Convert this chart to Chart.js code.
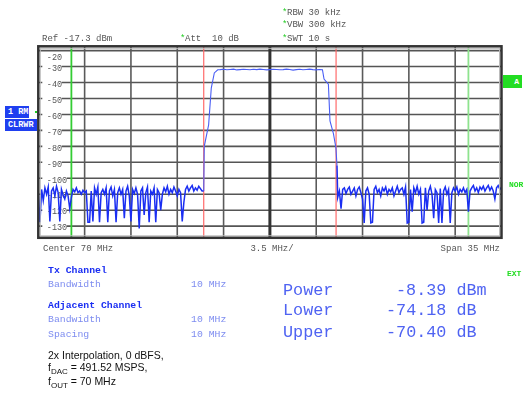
<!DOCTYPE html>
<html>
<head>
<meta charset="utf-8">
<script src="https://cdn.jsdelivr.net/npm/chart.js@4.4.0/dist/chart.umd.min.js"></script>
<style>
  body { margin: 0; background: #fff; }
  #wrap { position: relative; width: 525px; height: 393px; overflow: hidden; }
  canvas { position: absolute; left: 0; top: 0; }
  .t { position: absolute; white-space: pre; transform: translateY(-50%); line-height: 1.15; font-family: 'Liberation Mono', 'DejaVu Sans Mono', monospace; }
  .hdr { font-size: 9px; color: #555; }
  .star { color: #22cc22; }
  .blue-b { font-size: 9.8px; font-weight: bold; color: #1a2ef2; }
  .blue-l { font-size: 9.8px; color: #7d8cf0; }
  .big { font-size: 16.8px; color: #4f63f2; }
  .note { font-family: 'Liberation Sans', Arial, sans-serif; font-size: 10.5px; color: #111; }
  .note sub { font-size: 8px; vertical-align: -3px; line-height: 0; }
  .box { position: absolute; overflow: hidden; white-space: pre; font-family: 'Liberation Mono', monospace; font-size: 8.5px; font-weight: bold; color: #fff; line-height: 12px; padding-left: 3px; box-sizing: border-box; }
  .grn { color: #22dd22; font-size: 8px; font-weight: bold; }
</style>
</head>
<body>
<div id="wrap">
  <canvas id="c" width="525" height="393"></canvas>

  <div class="t hdr" style="left:287px;top:12.7px"><span class="star" style="position:absolute;left:-5px">*</span>RBW 30 kHz</div>
  <div class="t hdr" style="left:287px;top:25px"><span class="star" style="position:absolute;left:-5px">*</span>VBW 300 kHz</div>
  <div class="t hdr" style="left:287px;top:38.5px"><span class="star" style="position:absolute;left:-5px">*</span>SWT 10 s</div>
  <div class="t hdr" style="left:42px;top:38.5px">Ref -17.3 dBm</div>
  <div class="t hdr" style="left:185px;top:38.5px"><span class="star" style="position:absolute;left:-5px">*</span>Att  10 dB</div>

  <div class="box" style="left:5px;top:106px;width:24px;height:12px;background:#1f3ff0">1 RM</div>
  <div class="box" style="left:5px;top:119px;width:32px;height:12px;background:#1f3ff0">CLRWR</div>
  <div style="position:absolute;left:34.5px;top:110.5px;width:2px;height:2px;background:#22cc22"></div>

  <div class="box" style="left:503px;top:75px;width:19px;height:13px;background:#22dd22;text-align:right;padding-right:3px;font-size:8px;line-height:13px">A</div>
  <div class="t grn" style="left:509px;top:184.5px">NOR</div>
  <div class="t grn" style="left:507px;top:273.5px">EXT</div>

  <div class="t hdr" style="left:43px;top:248.5px">Center 70 MHz</div>
  <div class="t hdr" style="left:272px;top:248.5px;transform:translate(-50%,-50%)">3.5 MHz/</div>
  <div class="t hdr" style="right:25px;top:248.5px">Span 35 MHz</div>

  <div class="t blue-b" style="left:48px;top:271px">Tx Channel</div>
  <div class="t blue-l" style="left:48px;top:285px">Bandwidth</div>
  <div class="t blue-l" style="left:191px;top:285px">10 MHz</div>
  <div class="t blue-b" style="left:48px;top:306px">Adjacent Channel</div>
  <div class="t blue-l" style="left:48px;top:320px">Bandwidth</div>
  <div class="t blue-l" style="left:191px;top:320px">10 MHz</div>
  <div class="t blue-l" style="left:48px;top:335px">Spacing</div>
  <div class="t blue-l" style="left:191px;top:335px">10 MHz</div>

  <div class="t big" style="left:283px;top:290.5px">Power</div>
  <div class="t big" style="left:396px;top:290.5px">-8.39 dBm</div>
  <div class="t big" style="left:283px;top:310.5px">Lower</div>
  <div class="t big" style="left:386px;top:310.5px">-74.18 dB</div>
  <div class="t big" style="left:283px;top:332.5px">Upper</div>
  <div class="t big" style="left:386px;top:332.5px">-70.40 dB</div>

  <div class="t note" style="left:48px;top:354.5px">2x Interpolation, 0 dBFS,</div>
  <div class="t note" style="left:48px;top:366.5px">f<sub>DAC</sub> = 491.52 MSPS,</div>
  <div class="t note" style="left:48px;top:380.5px">f<sub>OUT</sub> = 70 MHz</div>
</div>

<script>
// frequency axis (MHz): center 70, span 35
const freqMin = 52.5;
const freqMax = 87.5;
const freqGrid = [56, 59.5, 63, 66.5, 70, 73.5, 77, 80.5, 84];
const centerFreq = 70;
const txEdges = [65, 75];
const adjEdges = [55, 85];

// level axis (dBm): ref -17.3, 10 dB/div
const levelMin = -137.3;
const levelMax = -17.3;
const levelTicks = [-20, -30, -40, -50, -60, -70, -80, -90, -100, -110, -120, -130];

// trace, noise floor below the channel: from 52.5 MHz, 0.125 MHz apart
const noiseStep = 0.125;
const lowerNoise = [
  -109, -127.5, -107, -114, -106, -110, -105.5, -127, -108, -106,
  -111, -105, -109, -127, -107, -110.5, -113, -108, -111, -119,
  -112, -107, -108.5, -106, -109, -108, -110, -107.5, -109, -108,
  -127.5, -127.5, -108, -127, -106, -110, -105.5, -127.5, -109, -107,
  -110, -106, -127.5, -108, -105.5, -111, -107, -127.5, -109, -106,
  -110, -107, -125, -108, -105, -111, -127, -107, -109.5, -106,
  -110, -131.5, -108, -106, -123, -109, -105.5, -127.5, -108, -110,
  -106, -127.5, -107, -109, -120, -110, -106, -108.5, -105, -110,
  -107, -109, -105.5, -108, -111, -107, -109, -127, -115, -107,
  -105, -108, -106, -104.5, -108, -106, -107.5, -105, -106.5, -108
];

// rising edge of the Tx channel
const riseFreq = [65.0, 65.04, 65.37, 65.57, 65.8, 66.06];
const riseLevel = [-108, -80, -66.5, -43.5, -34, -32];

// channel top: from 66.25 MHz, 0.25 MHz apart
const plateauStart = 66.25;
const plateauStep = 0.25;
const plateauLevel = [
  -31.9, -31.7, -32.0, -31.8, -31.6, -32.1, -31.9, -31.7, -31.8, -32.0,
  -31.7, -31.9, -31.6, -31.8, -32.1, -31.9, -31.7, -31.8, -32.0, -31.9,
  -31.6, -31.8, -32.2, -31.9, -31.7, -32.0, -31.8, -31.6, -31.9, -32.1,
  -31.8
];

// falling edge
const fallFreq = [73.97, 74.09, 74.42, 74.54, 74.8, 74.99, 75.07];
const fallLevel = [-32, -37.8, -41, -64, -72, -81, -92];

// noise floor above the channel: from 75.125 MHz, 0.125 MHz apart
const upperStart = 75.125;
const upperNoise = [
  -112, -108, -119, -107, -106, -109.5, -107, -105.5, -110, -108,
  -106, -111, -107, -105.5, -109, -113, -128, -108, -106, -110,
  -128, -127.5, -107, -105, -109, -107, -111, -106, -108, -105.5,
  -110, -107, -108.5, -106, -111, -108, -105, -109, -107, -106,
  -110, -105.5, -128, -127.5, -107, -121, -106, -109, -105, -110,
  -107, -128, -127.5, -106, -120, -108, -105, -110, -125, -107,
  -109, -128, -106.5, -128, -108, -105.5, -110, -107, -128, -109,
  -106, -108, -105.5, -110, -107, -108.5, -106, -109, -107, -121,
  -108, -106, -104.5, -108, -106, -109, -105.5, -107, -105, -108,
  -106, -104.5, -107.5, -105.5, -108, -113, -106, -104.5, -107, -105.5
];

const trace = [];
lowerNoise.forEach((v, i) => trace.push({ x: freqMin + i * noiseStep, y: v }));
riseFreq.forEach((f, i) => trace.push({ x: f, y: riseLevel[i] }));
plateauLevel.forEach((v, i) => trace.push({ x: plateauStart + i * plateauStep, y: v }));
fallFreq.forEach((f, i) => trace.push({ x: f, y: fallLevel[i] }));
upperNoise.forEach((v, i) => trace.push({ x: upperStart + i * noiseStep, y: v }));

function vline(ctx, px, top, bottom) {
  ctx.beginPath();
  ctx.moveTo(px, top);
  ctx.lineTo(px, bottom);
  ctx.stroke();
}

function hline(ctx, py, left, right) {
  ctx.beginPath();
  ctx.moveTo(left, py);
  ctx.lineTo(right, py);
  ctx.stroke();
}

// the part of the trace inside the channel is drawn thinner and lighter
const inChannel = seg => seg.p0.parsed.y > -90 || seg.p1.parsed.y > -90;

const screenPlugin = {
  id: 'analyzerScreen',
  beforeDatasetsDraw(chart) {
    const { ctx, chartArea: a, scales: { x, y } } = chart;
    ctx.save();

    ctx.strokeStyle = '#555';
    ctx.lineWidth = 1.6;
    levelTicks.forEach(v => hline(ctx, y.getPixelForValue(v), a.left, a.right));

    freqGrid.forEach(f => {
      ctx.strokeStyle = f === centerFreq ? '#333' : '#5a5a5a';
      ctx.lineWidth = f === centerFreq ? 3 : 1.6;
      vline(ctx, x.getPixelForValue(f), a.top, a.bottom);
    });

    // level labels sit inside the frame, on a white patch
    ctx.font = '8.5px "Liberation Mono", monospace';
    ctx.textBaseline = 'middle';
    ctx.textAlign = 'left';
    levelTicks.forEach(v => {
      const py = y.getPixelForValue(v) + (v === -20 ? 7 : 2);
      const text = String(v);
      const w = ctx.measureText(text).width;
      ctx.fillStyle = '#fff';
      ctx.fillRect(a.left + 4, py - 4, w + 4, 8);
      ctx.fillStyle = '#555';
      ctx.fillText(text, a.left + 8.5, py);
    });

    ctx.lineWidth = 1.8;
    ctx.strokeStyle = '#33cc33';
    vline(ctx, x.getPixelForValue(adjEdges[0]), a.top, a.bottom);
    ctx.strokeStyle = '#8ee38e';
    vline(ctx, x.getPixelForValue(adjEdges[1]), a.top, a.bottom);

    ctx.lineWidth = 1.2;
    ctx.strokeStyle = '#ff6a6a';
    txEdges.forEach(f => vline(ctx, x.getPixelForValue(f), a.top, a.bottom));
    ctx.restore();
  },
  afterDatasetsDraw(chart) {
    const { ctx, chartArea: a } = chart;
    ctx.save();
    ctx.strokeStyle = '#bbb';
    ctx.lineWidth = 1;
    ctx.strokeRect(a.left + 2, a.top + 2, a.right - a.left - 4, a.bottom - a.top - 4);
    ctx.strokeStyle = '#333';
    ctx.lineWidth = 2.5;
    ctx.strokeRect(a.left, a.top, a.right - a.left, a.bottom - a.top);
    ctx.restore();
  }
};

new Chart(document.getElementById('c'), {
  type: 'line',
  plugins: [screenPlugin],
  data: {
    datasets: [{
      data: trace,
      borderColor: '#1a2ef2',
      borderWidth: 1.5,
      pointRadius: 0,
      tension: 0,
      fill: false,
      segment: {
        borderColor: seg => inChannel(seg) ? '#4a5ef4' : undefined,
        borderWidth: seg => inChannel(seg) ? 1.1 : undefined,
      },
    }],
  },
  options: {
    responsive: false,
    animation: false,
    devicePixelRatio: 1,
    layout: { padding: { left: 38.3, right: 23.5, top: 46.3, bottom: 155.2 } },
    plugins: { legend: { display: false }, tooltip: { enabled: false } },
    scales: {
      x: { type: 'linear', min: freqMin, max: freqMax, display: false },
      y: { type: 'linear', min: levelMin, max: levelMax, display: false },
    },
  },
});
</script>
</body>
</html>
